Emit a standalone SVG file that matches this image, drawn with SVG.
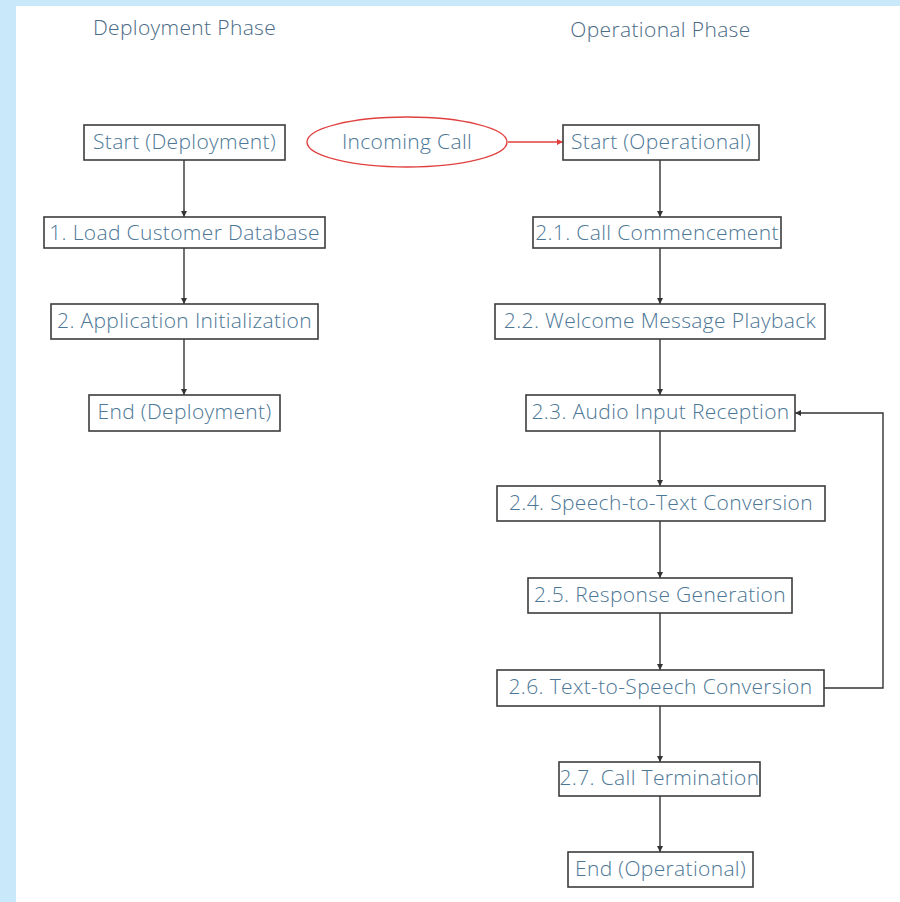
<svg xmlns="http://www.w3.org/2000/svg" width="900" height="902" viewBox="0 0 900 902">
<style>
.box{fill:#ffffff;stroke:#3c3c3c;stroke-width:1.6}
.t{font-family:"Open Sans","Liberation Sans",sans-serif;font-size:21px;font-weight:300;letter-spacing:0.35px;fill:#4d7796;text-anchor:middle;dominant-baseline:central}
.h{font-family:"Open Sans","Liberation Sans",sans-serif;font-size:21px;font-weight:300;letter-spacing:0.35px;fill:#4a6a85;text-anchor:middle}
.e{fill:none;stroke:#333;stroke-width:1.4}
.r{fill:none;stroke:#e0403f;stroke-width:1.4}
</style>
<defs>
<marker id="a" viewBox="0 0 10 10" refX="10" refY="5" markerWidth="6" markerHeight="6" markerUnits="userSpaceOnUse" orient="auto"><path d="M0,0 L10,5 L0,10 z" fill="#333"/></marker>
<marker id="ar" viewBox="0 0 10 10" refX="10" refY="5" markerWidth="6" markerHeight="6" markerUnits="userSpaceOnUse" orient="auto"><path d="M0,0 L10,5 L0,10 z" fill="#e0403f"/></marker>
</defs>
<rect width="900" height="902" fill="#c9e8fa"/>
<rect x="16" y="6" width="884" height="896" fill="#ffffff"/>
<text class="h" x="184.5" y="35">Deployment Phase</text>
<text class="h" x="660.5" y="37">Operational Phase</text>
<g id="connectors">
<line class="e" x1="184" y1="160" x2="184" y2="217" marker-end="url(#a)"/>
<line class="e" x1="184" y1="248" x2="184" y2="304" marker-end="url(#a)"/>
<line class="e" x1="184" y1="339" x2="184" y2="395" marker-end="url(#a)"/>
<line class="r" x1="508" y1="142" x2="563" y2="142" marker-end="url(#ar)"/>
<line class="e" x1="660" y1="160" x2="660" y2="217" marker-end="url(#a)"/>
<line class="e" x1="660" y1="248" x2="660" y2="304" marker-end="url(#a)"/>
<line class="e" x1="660" y1="339" x2="660" y2="395" marker-end="url(#a)"/>
<line class="e" x1="660" y1="431" x2="660" y2="486" marker-end="url(#a)"/>
<line class="e" x1="660" y1="521" x2="660" y2="578" marker-end="url(#a)"/>
<line class="e" x1="660" y1="613" x2="660" y2="670" marker-end="url(#a)"/>
<line class="e" x1="660" y1="706" x2="660" y2="762" marker-end="url(#a)"/>
<line class="e" x1="660" y1="796" x2="660" y2="852" marker-end="url(#a)"/>
<polyline class="e" points="824,688 883,688 883,413 795,413" marker-end="url(#a)"/>
</g>
<g id="start-dep"><rect class="box" x="84" y="125" width="201" height="35"/><text class="t" x="184.5" y="141">Start (Deployment)</text></g>
<g id="load-db"><rect class="box" x="44" y="217" width="281" height="31"/><text class="t" x="184.5" y="232">1. Load Customer Database</text></g>
<g id="app-init"><rect class="box" x="51" y="304" width="267" height="35"/><text class="t" x="184.5" y="320">2. Application Initialization</text></g>
<g id="end-dep"><rect class="box" x="89" y="395" width="191" height="36"/><text class="t" x="184.5" y="411">End (Deployment)</text></g>
<g id="incoming"><ellipse cx="407" cy="142" rx="100" ry="25" fill="#ffffff" stroke="#e0403f" stroke-width="1.4"/><text class="t" x="407" y="141">Incoming Call</text></g>
<g id="start-op"><rect class="box" x="563" y="125" width="196" height="35"/><text class="t" x="661" y="141">Start (Operational)</text></g>
<g id="s21"><rect class="box" x="533" y="217" width="248" height="31"/><text class="t" x="657" y="232">2.1. Call Commencement</text></g>
<g id="s22"><rect class="box" x="495" y="304" width="330" height="35"/><text class="t" x="660" y="320">2.2. Welcome Message Playback</text></g>
<g id="s23"><rect class="box" x="526" y="395" width="269" height="36"/><text class="t" x="660.5" y="411">2.3. Audio Input Reception</text></g>
<g id="s24"><rect class="box" x="497" y="486" width="328" height="35"/><text class="t" x="661" y="502">2.4. Speech-to-Text Conversion</text></g>
<g id="s25"><rect class="box" x="528" y="578" width="264" height="35"/><text class="t" x="660" y="594">2.5. Response Generation</text></g>
<g id="s26"><rect class="box" x="497" y="670" width="327" height="36"/><text class="t" x="660.5" y="686">2.6. Text-to-Speech Conversion</text></g>
<g id="s27"><rect class="box" x="559" y="762" width="201" height="34"/><text class="t" x="659.5" y="777">2.7. Call Termination</text></g>
<g id="end-op"><rect class="box" x="568" y="852" width="185" height="35"/><text class="t" x="660.5" y="868">End (Operational)</text></g>
</svg>
